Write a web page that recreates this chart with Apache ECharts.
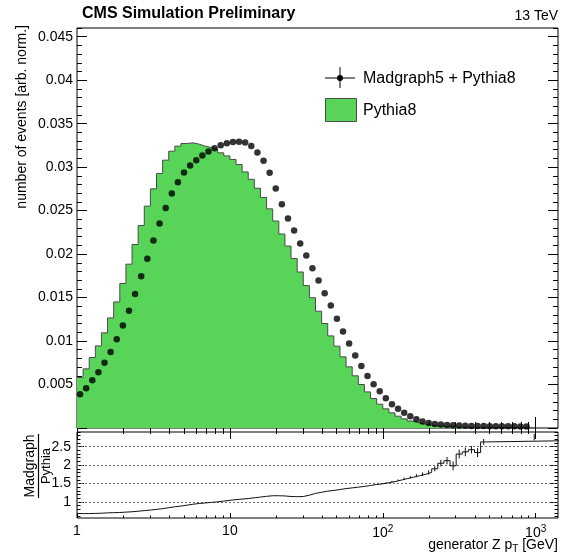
<!DOCTYPE html>
<html>
<head>
<meta charset="utf-8">
<script src="https://cdn.jsdelivr.net/npm/echarts@6/dist/echarts.min.js"></script>
<style>
html,body{margin:0;padding:0;background:#fff;}
#chart{width:561px;height:554px;}
</style>
</head>
<body>
<div id="chart"></div>
<script>
// Generator-level Z pT, log-spaced binning: 25 bins per decade starting at 1 GeV
const BINS_PER_DECADE = 25;
const PT_MIN = 1;
const PT_MAX = 1400;

// Pythia8 (filled histogram), normalised bin contents
const pythia8 = [
  0.00581, 0.00680, 0.00811, 0.00944, 0.01094, 0.01266, 0.01450, 0.01662, 0.01884, 0.02110,
  0.02329, 0.02551, 0.02750, 0.02927, 0.03080, 0.03183, 0.03241, 0.03272, 0.03279, 0.03264,
  0.03241, 0.03226, 0.03203, 0.03164, 0.03129, 0.03088, 0.03030, 0.02945, 0.02860, 0.02757,
  0.02652, 0.02520, 0.02380, 0.02231, 0.02092, 0.01949, 0.01794, 0.01638, 0.01498, 0.01343,
  0.01202, 0.01059, 0.00941, 0.00818, 0.00703, 0.00600, 0.00500, 0.00415, 0.00339, 0.00274,
  0.00220, 0.00174, 0.00136, 0.00105, 0.00080, 0.00060, 0.00044, 0.00033, 0.00025, 0.00019,
  0.00015, 0.00012, 0.00009, 0.00007, 0.00006, 0.00005, 0.00004, 0.00003, 0.00003, 0.00002,
  0.00002, 0.00002, 0.00001, 0.00001, 0
];

// Madgraph5 + Pythia8 (markers), normalised bin contents
const madgraph = [
  0.00389, 0.00458, 0.00550, 0.00642, 0.00749, 0.00875, 0.01021, 0.01179, 0.01347, 0.01542,
  0.01746, 0.01945, 0.02156, 0.02352, 0.02531, 0.02697, 0.02827, 0.02938, 0.03019, 0.03080,
  0.03134, 0.03180, 0.03218, 0.03252, 0.03275, 0.03290, 0.03292, 0.03283, 0.03244, 0.03168,
  0.03072, 0.02934, 0.02754, 0.02574, 0.02409, 0.02271, 0.02122, 0.01984, 0.01838, 0.01696,
  0.01550, 0.01409, 0.01255, 0.01110, 0.00972, 0.00834, 0.00714, 0.00599, 0.00504, 0.00423,
  0.00343, 0.00274, 0.00220, 0.00174, 0.00136, 0.00101, 0.00075, 0.00058, 0.00047, 0.00040,
  0.00035, 0.00031, 0.00028, 0.00026, 0.00024, 0.00023, 0.00022, 0.00021, 0.00020, 0.00020,
  0.00019, 0.00019, 0.00018, 0.00018
];

// Madgraph / Pythia ratio per bin, and its uncertainty where visible
const ratioValues = [
  0.68, 0.68, 0.685, 0.69, 0.70, 0.705, 0.71, 0.72, 0.73, 0.745,
  0.76, 0.775, 0.795, 0.815, 0.84, 0.865, 0.885, 0.91, 0.935, 0.955,
  0.97, 0.985, 1.00, 1.02, 1.04, 1.06, 1.075, 1.09, 1.11, 1.13,
  1.15, 1.165, 1.165, 1.16, 1.145, 1.14, 1.145, 1.18, 1.23, 1.26,
  1.29, 1.31, 1.335, 1.36, 1.38, 1.40, 1.42, 1.445, 1.47, 1.49,
  1.52, 1.55, 1.59, 1.63, 1.67, 1.71, 1.75, 1.80, 1.90, 2.05,
  2.12, 1.98, 2.30, 2.36, 2.42, 2.34, 2.63
];
const ratioErrors = [
  0, 0, 0, 0, 0, 0, 0, 0, 0, 0,
  0, 0, 0, 0, 0, 0, 0, 0, 0, 0,
  0, 0, 0, 0, 0, 0, 0, 0, 0, 0,
  0, 0, 0, 0, 0, 0, 0, 0, 0, 0,
  0, 0, 0, 0, 0, 0, 0, 0, 0, 0,
  0.01, 0.02, 0.02, 0.03, 0.03, 0.04, 0.05, 0.06, 0.07, 0.09,
  0.10, 0.12, 0.12, 0.12, 0.10, 0.12, 0.08
];
// Last, wide ratio bin
const lastBinRatio = 2.67;
const lastBinUpperEdge = 2000;
const lastBinErrorRange = [2.67, 2.85];

// Axis ticks and labels
const xMajorTicks = [1, 10, 100, 1000];
const xMinorTicks = [];
for (const d of [1, 10, 100]) for (let m = 2; m <= 9; m++) xMinorTicks.push(m * d);
const yMainLabels = [0.005, 0.01, 0.015, 0.02, 0.025, 0.03, 0.035, 0.04, 0.045];
const yMainMinor = [];
for (let i = 1; i <= 46; i++) if (i % 5) yMainMinor.push(i / 1000);
const yRatioLabels = [1, 1.5, 2, 2.5];
const yRatioMinor = [];
for (let i = 6; i <= 29; i++) if (i % 5) yRatioMinor.push(i / 10);

const edge = k => Math.pow(10, k / BINS_PER_DECADE) * PT_MIN;
const center = k => Math.pow(10, (k + 0.5) / BINS_PER_DECADE) * PT_MIN;

// step-histogram points: each bin starts at its lower edge
const pythiaSteps = pythia8.map((v, k) => [edge(k), v]);
pythiaSteps.push([edge(pythia8.length), pythia8[pythia8.length - 1]]);
const madgraphPoints = madgraph.map((v, k) => [center(k), v]);

const ratioSteps = ratioValues.map((v, k) => [edge(k), v]);
ratioSteps.push([edge(ratioValues.length), lastBinRatio]);
ratioSteps.push([lastBinUpperEdge, lastBinRatio]);
const ratioBars = [];
ratioErrors.forEach((e, k) => { if (e > 0) ratioBars.push([center(k), ratioValues[k] - e, ratioValues[k] + e]); });
ratioBars.push([Math.sqrt(edge(ratioValues.length) * lastBinUpperEdge), lastBinErrorRange[0], lastBinErrorRange[1]]);

const FONT = '"Liberation Sans", Arial, Helvetica, sans-serif';
const GREEN = '#58d558';
const FRAME = '#000';

function xAx(grid, pos, ticks, len, extra) {
  return Object.assign({
    type: 'log', logBase: 10, gridIndex: grid, position: pos, min: PT_MIN, max: PT_MAX, z: 0,
    axisLine: { show: false },
    axisTick: { show: true, inside: true, length: len, customValues: ticks, lineStyle: { color: '#000', width: 1 } },
    axisLabel: { show: false },
    splitLine: { show: false }, minorTick: { show: false }, minorSplitLine: { show: false }
  }, extra || {});
}
function yAx(grid, pos, min, max, ticks, len, extra) {
  return Object.assign({
    type: 'value', gridIndex: grid, position: pos, min: min, max: max, z: 0,
    axisLine: { show: false },
    axisTick: { show: true, inside: true, length: len, customValues: ticks, lineStyle: { color: '#000', width: 1 } },
    axisLabel: { show: false },
    splitLine: { show: false }
  }, extra || {});
}

const chart = echarts.init(document.getElementById('chart'), null, { renderer: 'canvas' });
chart.setOption({
  animation: false,
  backgroundColor: '#fff',
  textStyle: { fontFamily: FONT },
  grid: [
    { left: 77, top: 28, width: 481, height: 400, show: true, borderColor: FRAME, borderWidth: 1, backgroundColor: 'transparent', z: 0 },
    { left: 77, top: 432, width: 481, height: 86, show: true, borderColor: FRAME, borderWidth: 1, backgroundColor: 'transparent', z: 0 }
  ],
  xAxis: [
    xAx(0, 'bottom', xMajorTicks, 11),
    xAx(0, 'bottom', xMinorTicks, 6),
    xAx(0, 'top', xMajorTicks, 11),
    xAx(0, 'top', xMinorTicks, 6),
    xAx(1, 'bottom', xMajorTicks, 5, {
      axisLabel: {
        show: true, customValues: xMajorTicks, margin: 6, color: '#000', fontSize: 14, fontFamily: FONT,
        formatter: v => (v < 100 ? String(Math.round(v)) : '10{sup|' + Math.round(Math.log10(v)) + '}'),
        rich: { sup: { fontSize: 10, fontFamily: FONT, color: '#000', padding: [0, 0, 8, 0] } }
      }
    }),
    xAx(1, 'bottom', xMinorTicks, 2.5),
    xAx(1, 'top', xMajorTicks, 4),
    xAx(1, 'top', xMinorTicks, 2)
  ],
  yAxis: [
    yAx(0, 'left', 0, 0.046, [0].concat(yMainLabels), 10, {
      axisLabel: { show: true, customValues: yMainLabels, margin: 4, color: '#000', fontSize: 14, fontFamily: FONT, formatter: v => String(v) }
    }),
    yAx(0, 'left', 0, 0.046, yMainMinor, 5),
    yAx(0, 'right', 0, 0.046, [0].concat(yMainLabels), 10),
    yAx(0, 'right', 0, 0.046, yMainMinor, 5),
    yAx(1, 'left', 0.56, 2.9, yRatioLabels, 7, {
      axisLabel: { show: true, customValues: yRatioLabels, margin: 6, color: '#000', fontSize: 14, fontFamily: FONT, formatter: v => String(v) }
    }),
    yAx(1, 'left', 0.56, 2.9, yRatioMinor, 3.5),
    yAx(1, 'right', 0.56, 2.9, yRatioLabels, 7),
    yAx(1, 'right', 0.56, 2.9, yRatioMinor, 3.5)
  ],
  series: [
    {
      name: 'Pythia8', type: 'line', step: 'end', xAxisIndex: 0, yAxisIndex: 0,
      data: pythiaSteps, symbol: 'none', z: 5,
      lineStyle: { color: '#4a4a4a', width: 1 },
      areaStyle: { color: GREEN, opacity: 1, origin: 'start' }
    },
    {
      name: 'Madgraph5 + Pythia8', type: 'scatter', xAxisIndex: 0, yAxisIndex: 0,
      data: madgraphPoints, symbol: 'circle', symbolSize: 6.5, z: 6,
      itemStyle: { color: '#000' }
    },
    {
      name: 'ratio', type: 'line', step: 'end', xAxisIndex: 4, yAxisIndex: 4,
      data: ratioSteps, symbol: 'none', z: 6,
      lineStyle: { color: '#111', width: 1 },
      markLine: {
        silent: true, symbol: ['none', 'none'], label: { show: false },
        lineStyle: { color: '#666', type: [2, 2], width: 1 },
        data: yRatioLabels.map(v => ({ yAxis: v }))
      }
    },
    {
      name: 'ratio errors', type: 'custom', xAxisIndex: 4, yAxisIndex: 4, z: 6,
      data: ratioBars,
      renderItem: (params, api) => {
        const lo = api.coord([api.value(0), api.value(1)]);
        const hi = api.coord([api.value(0), api.value(2)]);
        return { type: 'line', shape: { x1: lo[0], y1: lo[1], x2: hi[0], y2: hi[1] }, style: { stroke: '#111', lineWidth: 1 } };
      }
    }
  ],
  graphic: [
    { type: 'text', left: 82, top: 6, style: { text: 'CMS Simulation Preliminary', font: 'bold 16px ' + FONT, fill: '#000' } },
    { type: 'text', x: 558, y: 16, style: { text: '13 TeV', font: '14px ' + FONT, fill: '#000', align: 'right', verticalAlign: 'middle' } },
    { type: 'text', x: 22, y: 25, rotation: Math.PI / 2,
      style: { text: 'number of events [arb. norm.]', font: '14px ' + FONT, fill: '#000', align: 'right', verticalAlign: 'middle' } },
    { type: 'text', x: 558, y: 545,
      style: { text: 'generator Z p{sub|T} [GeV]', font: '14px ' + FONT, fill: '#000', align: 'right', verticalAlign: 'middle',
               rich: { sub: { fontSize: 10, fontFamily: FONT, fill: '#000', padding: [8, 0, 0, 0] } } } },
    {
      type: 'group', x: 38.5, y: 466, rotation: Math.PI / 2,
      children: [
        { type: 'text', x: 0, y: -1, style: { text: 'Madgraph', font: '14px ' + FONT, fill: '#000', align: 'center', verticalAlign: 'bottom' } },
        { type: 'line', shape: { x1: -32, y1: 0, x2: 32, y2: 0 }, style: { stroke: '#000', lineWidth: 1.2 } },
        { type: 'text', x: 0, y: 1, style: { text: 'Pythia', font: '13px ' + FONT, fill: '#000', align: 'center', verticalAlign: 'top' } }
      ]
    },
    // legend
    { type: 'line', shape: { x1: 325, y1: 78, x2: 355, y2: 78 }, style: { stroke: '#000', lineWidth: 1 } },
    { type: 'line', shape: { x1: 340, y1: 67, x2: 340, y2: 88 }, style: { stroke: '#000', lineWidth: 1 } },
    { type: 'circle', shape: { cx: 340, cy: 78, r: 3 }, style: { fill: '#000' } },
    { type: 'text', x: 363, y: 79, style: { text: 'Madgraph5 + Pythia8', font: '16px ' + FONT, fill: '#000', verticalAlign: 'middle' } },
    { type: 'rect', shape: { x: 325.5, y: 98.5, width: 31, height: 23 }, style: { fill: GREEN, stroke: '#4a4a4a', lineWidth: 1 } },
    { type: 'text', x: 363, y: 111, style: { text: 'Pythia8', font: '16px ' + FONT, fill: '#000', verticalAlign: 'middle' } }
  ]
});
</script>
</body>
</html>
